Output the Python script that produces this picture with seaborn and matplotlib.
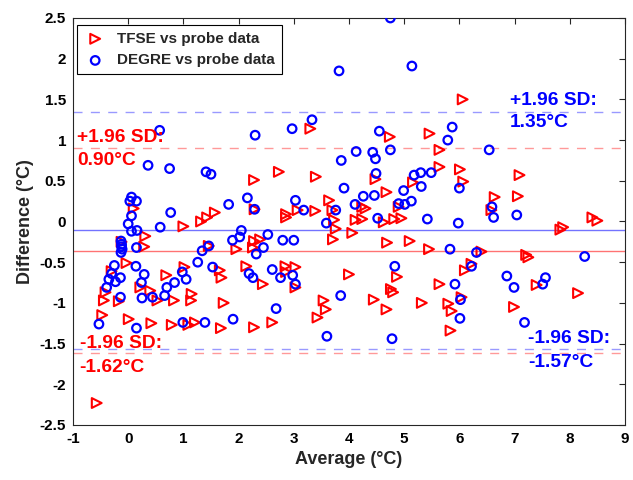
import matplotlib
matplotlib.use("Agg")
import matplotlib.pyplot as plt
import seaborn as sns
import pandas as pd

# ---- data ----
tfse_avg = [6.06, 3.30, 4.74, 5.46, 5.64, 0.10, 1.00, 0.31, 0.29, -0.12, -0.03, -0.30, 0.69, 1.02,
            0.22, 2.73, 2.28, 3.40, 2.29, 1.32, 1.43, 1.57, 2.86, 2.86, 3.07, 3.39, 3.64, 3.70,
            3.73, 3.76, 3.71, 2.28, 2.39, 2.26, 1.96, 1.66, 1.69, 2.14, 2.44, 2.85, 3.03, 2.86,
            3.03, 5.64, 6.01, 6.07, 4.48, 5.16, 4.68, 4.90, 4.30, 4.24, 4.12, 4.24, 4.63, 4.82,
            4.95, 4.06, 4.69, 5.10, 5.45, 6.22, 6.10, 4.00, 4.87, 5.64, 4.76, 7.09, 6.64, 7.06,
            6.58, 7.83, 7.88, 8.41, 8.50, 6.40, 7.21, 7.25, 7.40, 8.15, -0.41, -0.44, -0.17, 0.40,
            0.53, 0.83, 1.15, 1.14, -0.47, 0.01, 0.42, 0.79, 1.09, 1.21, -0.57, 1.73, 1.68, 2.28,
            2.61, 3.54, 3.58, 3.43, 4.80, 4.45, 4.68, 5.32, 5.80, 6.04, 5.86, 5.84, 6.99, 1.46]
tfse_diff = [1.50, 1.14, 1.04, 1.08, 0.88, 0.16, -0.06, -0.18, -0.31, -0.25, -0.51, -0.61, -0.66, -0.56,
             -0.81, 0.61, 0.51, 0.55, 0.15, 0.00, 0.05, 0.11, 0.09, 0.05, 0.14, 0.13, 0.26, 0.14,
             0.02, -0.09, -0.22, -0.24, -0.22, -0.32, -0.34, -0.60, -0.69, -0.55, -0.77, -0.55, -0.56, -0.62,
             -0.81, 0.67, 0.64, 0.49, 0.52, 0.48, 0.36, 0.18, 0.16, 0.18, 0.02, 0.03, -0.01, 0.03,
             0.04, -0.14, -0.26, -0.24, -0.34, -0.52, -0.60, -0.65, -0.68, -0.77, -0.83, 0.57, 0.30, 0.31,
             0.14, -0.10, -0.07, 0.05, 0.01, -0.37, -0.41, -0.44, -0.78, -0.88, -0.87, -0.97, -0.98, -0.85,
             -0.97, -0.97, -0.89, -0.97, -1.15, -1.20, -1.25, -1.27, -1.27, -1.24, -2.23, -1.00, -1.31, -1.30,
             -1.24, -0.97, -1.08, -1.18, -0.87, -0.96, -1.08, -1.00, -1.01, -0.93, -1.10, -1.34, -1.05, -0.30]

degre_avg = [0.57, 2.30, 4.75, 3.82, 5.14, 3.33, 2.97, 4.55, 5.79, 5.87, 0.36, 0.75, 0.06, 0.03,
             0.15, 0.06, 0.77, 0.00, 0.58, 0.06, 0.16, 0.15, -0.13, -0.12, -0.12, -0.11, -0.13, -0.25,
             0.14, -0.30, 0.29, -0.14, -0.35, -0.23, 0.98, 1.05, 1.26, 0.24, 0.70, 0.84, -0.39, 1.41,
             1.50, 3.86, 2.16, 1.82, 2.29, 3.03, 3.18, 3.76, 3.59, 2.05, 2.02, 1.89, 2.53, 2.80,
             3.00, 2.45, 1.46, 1.34, 2.32, 1.53, 2.19, 2.26, 2.61, 2.76, 2.98, 3.03, 4.13, 4.43,
             4.75, 4.48, 4.49, 5.18, 5.30, 5.49, 5.31, 3.91, 4.26, 4.46, 4.99, 5.13, 5.01, 4.90,
             4.11, 4.52, 5.42, 5.98, 6.00, 5.83, 6.31, 4.83, 6.22, 5.92, 6.54, 6.59, 6.62, 7.04,
             8.27, 6.86, 7.56, 7.51, 6.99, -0.14, 0.25, 0.44, 0.66, -0.53, 0.15, 0.99, 1.39, 1.90,
             2.68, 3.85, 3.60, 6.02, 6.01, 4.78, 7.18]
degre_diff = [1.12, 1.06, 2.50, 1.85, 1.91, 1.25, 1.14, 1.11, 1.00, 1.16, 0.69, 0.65, 0.30, 0.25,
              0.25, 0.07, 0.11, -0.03, -0.07, -0.12, -0.11, -0.32, -0.24, -0.28, -0.31, -0.34, -0.38, -0.54,
              -0.55, -0.64, -0.65, -0.69, -0.71, -0.74, -0.62, -0.71, -0.50, -0.75, -0.81, -0.75, -0.81, 0.61,
              0.58, 0.75, 0.29, 0.21, 0.15, 0.26, 0.14, 0.14, -0.02, -0.11, -0.19, -0.23, -0.16, -0.23,
              -0.23, -0.32, -0.30, -0.36, -0.40, -0.56, -0.64, -0.69, -0.59, -0.69, -0.66, -0.77, 0.86, 0.85,
              0.88, 0.77, 0.59, 0.57, 0.60, 0.60, 0.43, 0.41, 0.31, 0.32, 0.38, 0.25, 0.21, 0.22,
              0.21, 0.04, 0.03, -0.02, 0.41, -0.34, -0.38, -0.55, -0.55, -0.77, 0.88, 0.18, 0.05, 0.08,
              -0.43, -0.67, -0.69, -0.77, -0.81, -0.93, -0.94, -0.93, -0.91, -1.26, -1.31, -1.24, -1.24, -1.20,
              -1.07, -0.91, -1.41, -0.96, -1.19, -1.44, -1.24]

tfse_mean, tfse_upper, tfse_lower = -0.36, 0.90, -1.62
degre_mean, degre_upper, degre_lower = -0.11, 1.35, -1.57

x_ticks = [-1, 0, 1, 2, 3, 4, 5, 6, 7, 8, 9]
y_ticks = [-2.5, -2, -1.5, -1, -0.5, 0, 0.5, 1, 1.5, 2, 2.5]
y_tick_labels = ["-2.5", "-2", "-1.5", "-1", "-0.5", "0", "0.5", "1", "1.5", "2", "2.5"]

# ---- style ----
sns.set_theme(style="white")
plt.rcParams['font.family'] = ['Liberation Sans', 'DejaVu Sans']
plt.rcParams['axes.unicode_minus'] = False

RED = "#ff0000"
BLUE = "#0000ff"

fig = plt.figure(figsize=(6.33, 4.80), dpi=100)
ax = fig.add_axes([0.1153, 0.1146, 0.8720, 0.8479])

tfse = pd.DataFrame({"avg": tfse_avg, "diff": tfse_diff})
degre = pd.DataFrame({"avg": degre_avg, "diff": degre_diff})

sns.scatterplot(data=tfse, x="avg", y="diff", ax=ax, marker=">", s=50,
                facecolors="none", edgecolor=RED, linewidth=1.5,
                label="TFSE vs probe data", zorder=3)
sns.scatterplot(data=degre, x="avg", y="diff", ax=ax, marker="o", s=38,
                facecolors="none", edgecolor=BLUE, linewidth=1.6,
                label="DEGRE vs probe data", zorder=3)

# mean and limits of agreement
ax.axhline(tfse_mean, color=RED, lw=1.0, alpha=0.55, zorder=1)
ax.axhline(degre_mean, color=BLUE, lw=1.0, alpha=0.55, zorder=1)
for v in (tfse_upper, tfse_lower):
    ax.axhline(v, color=RED, lw=1.0, alpha=0.4, dashes=(6.5, 6), zorder=1)
for v in (degre_upper, degre_lower):
    ax.axhline(v, color=BLUE, lw=1.0, alpha=0.4, dashes=(6.5, 6), zorder=1)

tkw = dict(fontsize=13.8, fontweight="bold", va="center", ha="left")
ax.text(-0.93, 1.03, "+1.96 SD:", color=RED, **tkw)
ax.text(-0.93, 0.75, f"{tfse_upper:.2f}°C", color=RED, **tkw)
ax.text(-0.88, -1.50, "-1.96 SD:", color=RED, **tkw)
ax.text(-0.88, -1.79, f"{tfse_lower:.2f}°C", color=RED, **tkw)
ax.text(6.91, 1.49, "+1.96 SD:", color=BLUE, **tkw)
ax.text(6.91, 1.22, f"{degre_upper:.2f}°C", color=BLUE, **tkw)
ax.text(7.24, -1.44, "-1.96 SD:", color=BLUE, **tkw)
ax.text(7.24, -1.73, f"{degre_lower:.2f}°C", color=BLUE, **tkw)

ax.set_xlim(-1, 9)
ax.set_ylim(-2.5, 2.5)
ax.set_xticks(x_ticks)
ax.set_xticklabels([str(t) for t in x_ticks])
ax.set_yticks(y_ticks)
ax.set_yticklabels(y_tick_labels)
ax.tick_params(direction="in", length=4, width=0.8, top=True, right=True,
               labelsize=11, colors="#262626", labelcolor="black", pad=5)
for lab in ax.get_xticklabels() + ax.get_yticklabels():
    lab.set_fontweight("bold")
for sp in ax.spines.values():
    sp.set_color("#262626")
    sp.set_linewidth(0.8)

ax.set_xlabel("Average (°C)", fontsize=13, fontweight="bold", labelpad=4)
ax.set_ylabel("Difference (°C)", fontsize=13, fontweight="bold", labelpad=4)

leg = ax.legend(loc="upper left", bbox_to_anchor=(0.007, 0.983), borderaxespad=0,
                fancybox=False, framealpha=1, edgecolor="black", borderpad=0.45,
                handletextpad=0.7, labelspacing=0.5, handlelength=1.5,
                prop={"weight": "bold", "size": 11, "family": "Liberation Sans"})
leg.get_frame().set_linewidth(0.8)

fig.savefig("out.png", dpi=100)
